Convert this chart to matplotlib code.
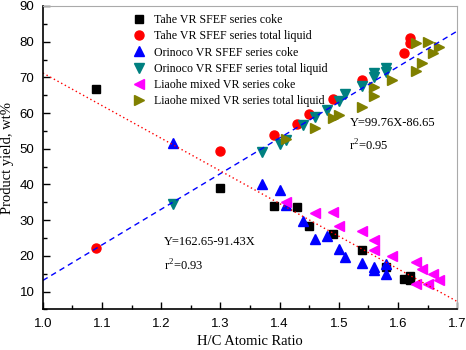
import matplotlib
matplotlib.use("Agg")
import matplotlib.pyplot as plt
import numpy as np
from matplotlib.ticker import MultipleLocator

# H/C ratio and yields
tahe_coke_x = [1.09, 1.30, 1.39, 1.43, 1.45, 1.49, 1.54, 1.58, 1.61, 1.62, 1.62]
tahe_coke_y = [66.8, 38.9, 33.9, 33.7, 28.3, 26.2, 21.5, 16.9, 13.6, 14.3, 13.1]

tahe_liq_x = [1.09, 1.30, 1.39, 1.43, 1.45, 1.49, 1.54, 1.61, 1.62, 1.62]
tahe_liq_y = [22.2, 49.4, 53.9, 56.9, 59.6, 63.9, 69.3, 76.8, 79.5, 80.9]

orin_coke_x = [1.22, 1.37, 1.40, 1.41, 1.44, 1.46, 1.48, 1.50, 1.51, 1.54, 1.56, 1.56, 1.58, 1.58]
orin_coke_y = [51.6, 40.2, 38.5, 34.3, 29.9, 24.8, 25.5, 21.9, 19.7, 18.0, 16.9, 15.9, 17.6, 15.0]

orin_liq_x = [1.22, 1.37, 1.40, 1.41, 1.44, 1.46, 1.48, 1.50, 1.51, 1.54, 1.56, 1.56, 1.58, 1.58]
orin_liq_y = [34.5, 49.0, 51.2, 52.5, 56.6, 58.9, 60.9, 63.5, 65.2, 67.5, 71.2, 70.1, 72.6, 71.6]

liao_coke_x = [1.41, 1.46, 1.49, 1.50, 1.54, 1.56, 1.56, 1.59, 1.63, 1.64, 1.66, 1.67, 1.63, 1.65]
liao_coke_y = [35.1, 32.0, 32.2, 28.5, 27.1, 24.3, 21.7, 19.9, 18.2, 16.2, 15.0, 13.1, 12.0, 12.0]

liao_liq_x = [1.41, 1.46, 1.49, 1.50, 1.54, 1.56, 1.56, 1.59, 1.63, 1.64, 1.63, 1.65, 1.66, 1.67]
liao_liq_y = [52.8, 55.8, 58.6, 59.5, 61.7, 64.8, 67.3, 69.3, 71.9, 74.0, 79.6, 79.8, 76.8, 78.6]

# fitted lines
liq_fit = (99.76, -86.65)
coke_fit = (-91.43, 162.65)

plt.rcParams['font.family'] = ['Liberation Sans', 'DejaVu Sans']
plt.rcParams['mathtext.fontset'] = 'custom'
plt.rcParams['mathtext.rm'] = 'Liberation Serif'
serif = ['Liberation Serif', 'DejaVu Serif']

fig = plt.figure(figsize=(4.66, 3.5), dpi=100)
ax = fig.add_axes([0.092, 0.116, 0.889, 0.867])

ms = 6.5
ax.plot(tahe_coke_x, tahe_coke_y, 's', color='black', ms=6, ls='none', label='Tahe VR SFEF series coke')
ax.plot(tahe_liq_x, tahe_liq_y, 'o', color='#ff0000', ms=ms, ls='none', label='Tahe VR SFEF series total liquid')
ax.plot(orin_coke_x, orin_coke_y, '^', color='#0000ff', ms=ms, ls='none', label='Orinoco VR SFEF series coke')
ax.plot(orin_liq_x, orin_liq_y, 'v', color='#008080', ms=ms, ls='none', label='Orinoco VR SFEF series total liquid')
ax.plot(liao_coke_x, liao_coke_y, '<', color='#ff00ff', ms=ms, ls='none', label='Liaohe mixed VR series coke')
ax.plot(liao_liq_x, liao_liq_y, '>', color='#808000', ms=ms, ls='none', label='Liaohe mixed VR series total liquid')

xx = np.array([1.0, 1.7])
ax.plot(xx, liq_fit[0] * xx + liq_fit[1], color='#0000ff', lw=1, ls=(0, (4, 3)))
ax.plot(xx, coke_fit[0] * xx + coke_fit[1], color='#ff0000', lw=1, ls=(0, (1, 2)))

ax.text(1.518, 56.5, 'Y=99.76X-86.65', fontsize=9, family=serif)
ax.text(1.518, 49.5, r'r$^{\mathrm{2}}$=0.95', fontsize=9, family=serif)

ax.text(1.204, 23.0, 'Y=162.65-91.43X', fontsize=9, family=serif)
ax.text(1.204, 15.8, r'r$^{\mathrm{2}}$=0.93', fontsize=9, family=serif)

ax.set_xlim(1.0, 1.7)
ax.set_ylim(5, 90)
ax.xaxis.set_major_locator(MultipleLocator(0.1))
ax.xaxis.set_minor_locator(MultipleLocator(0.05))
ax.yaxis.set_major_locator(MultipleLocator(10))
ax.yaxis.set_minor_locator(MultipleLocator(5))
ax.tick_params(which='both', direction='in', top=False, right=False, width=1, labelsize=9.5)
ax.tick_params(which='major', length=5, pad=6)
ax.tick_params(which='minor', length=3)

for s in ['top', 'right']:
    ax.spines[s].set_color('#aaaaaa')
for s in ['left', 'bottom']:
    ax.spines[s].set_linewidth(1.2)

ax.set_xlabel('H/C Atomic Ratio', fontsize=10.5, labelpad=4, family=serif)
ax.set_ylabel('Product yield, wt%', fontsize=10.5, labelpad=4, family=serif)

ax.legend(loc='upper left', bbox_to_anchor=(0.195, 1.0), frameon=False, prop={'family': serif, 'size': 8.6},
          handletextpad=0.6, labelspacing=0.35, borderaxespad=0.3, handlelength=1.2)

fig.savefig('out.png', dpi=100)
